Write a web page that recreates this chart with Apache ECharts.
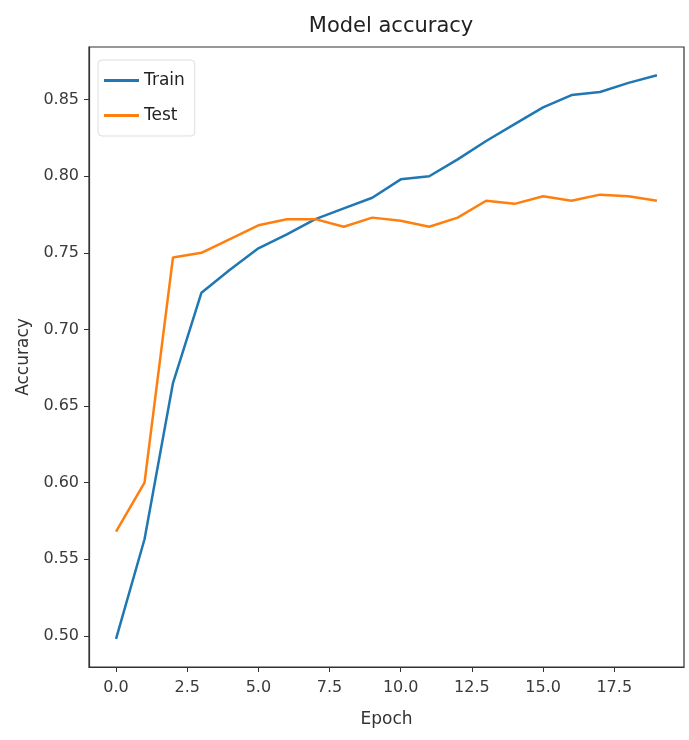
<!DOCTYPE html>
<html>
<head>
<meta charset="utf-8">
<script src="https://cdn.jsdelivr.net/npm/echarts@6/dist/echarts.min.js"></script>
<style>
  html, body { margin: 0; padding: 0; background: #fff; }
  #main { width: 689px; height: 740px; }
</style>
</head>
<body>
<div id="main"></div>
<script>
// epochs 0..19
var epochs = [0, 1, 2, 3, 4, 5, 6, 7, 8, 9, 10, 11, 12, 13, 14, 15, 16, 17, 18, 19];
var trainAcc = [0.498, 0.563, 0.665, 0.724, 0.739, 0.753, 0.762, 0.772, 0.779, 0.786,
                0.798, 0.800, 0.811, 0.823, 0.834, 0.845, 0.853, 0.855, 0.861, 0.866];
var testAcc = [0.568, 0.600, 0.747, 0.750, 0.759, 0.768, 0.772, 0.772, 0.767, 0.773,
               0.771, 0.767, 0.773, 0.784, 0.782, 0.787, 0.784, 0.788, 0.787, 0.784];
var xTicks = [0, 2.5, 5, 7.5, 10, 12.5, 15, 17.5];
var yTicks = [0.50, 0.55, 0.60, 0.65, 0.70, 0.75, 0.80, 0.85];

function pairs(ys) {
  return epochs.map(function (x, i) { return [x, ys[i]]; });
}

var chart = echarts.init(document.getElementById('main'));
var font = 'DejaVu Sans';

chart.setOption({
  backgroundColor: '#fff',
  animation: false,
  title: {
    text: 'Model accuracy',
    left: 386,
    top: 11,
    textAlign: 'center',
    textStyle: { fontFamily: font, fontSize: 21, fontWeight: 'normal', color: '#222' }
  },
  legend: {
    orient: 'vertical',
    left: 98,
    top: 60,
    padding: [12, 10, 12, 6],
    itemGap: 18,
    itemWidth: 35,
    itemHeight: 3,
    icon: 'rect',
    backgroundColor: '#fff',
    borderColor: '#dddddd',
    borderWidth: 1,
    borderRadius: 4,
    textStyle: { fontFamily: font, fontSize: 17, color: '#222' },
    data: ['Train', 'Test']
  },
  grid: {
    left: 89, right: 5, top: 47, bottom: 73,
    show: true, borderColor: '#333', borderWidth: 1.2, backgroundColor: '#fff'
  },
  xAxis: {
    type: 'value',
    min: -0.95,
    max: 19.95,
    name: 'Epoch',
    nameLocation: 'middle',
    nameGap: 44,
    nameTextStyle: { fontFamily: font, fontSize: 17, color: '#333' },
    axisLine: { show: true, onZero: false, lineStyle: { color: '#333', width: 1.2 } },
    axisTick: { show: true, length: 5, customValues: xTicks, lineStyle: { color: '#333' } },
    axisLabel: {
      customValues: xTicks, margin: 13,
      fontFamily: font, fontSize: 16, color: '#3a3a3a',
      formatter: function (v) { return v.toFixed(1); }
    },
    splitLine: { show: false }
  },
  yAxis: {
    type: 'value',
    min: 0.4796,
    max: 0.8844,
    name: 'Accuracy',
    nameLocation: 'middle',
    nameGap: 56,
    nameTextStyle: { fontFamily: font, fontSize: 17, color: '#333' },
    axisLine: { show: true, onZero: false, lineStyle: { color: '#333', width: 1.2 } },
    axisTick: { show: true, length: 5, customValues: yTicks, lineStyle: { color: '#333' } },
    axisLabel: {
      customValues: yTicks, margin: 10,
      fontFamily: font, fontSize: 16, color: '#3a3a3a',
      formatter: function (v) { return v.toFixed(2); }
    },
    splitLine: { show: false }
  },
  series: [
    {
      name: 'Train', type: 'line', data: pairs(trainAcc),
      showSymbol: false, symbol: 'none',
      itemStyle: { color: '#1f77b4' },
      lineStyle: { color: '#1f77b4', width: 2.5 }
    },
    {
      name: 'Test', type: 'line', data: pairs(testAcc),
      showSymbol: false, symbol: 'none',
      itemStyle: { color: '#ff7f0e' },
      lineStyle: { color: '#ff7f0e', width: 2.5 }
    }
  ]
});
</script>
</body>
</html>
